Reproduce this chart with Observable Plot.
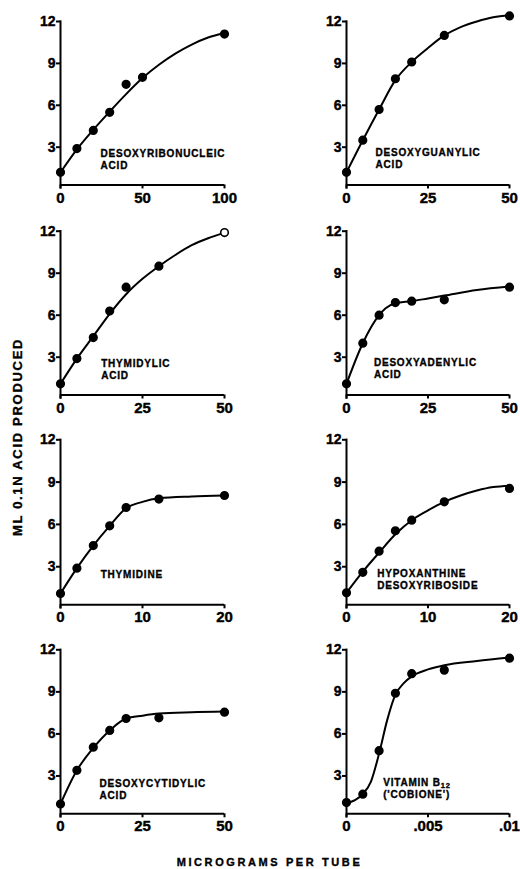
<!DOCTYPE html>
<html><head><meta charset="utf-8">
<script src="https://cdn.jsdelivr.net/npm/d3@7"></script>
<script src="https://cdn.jsdelivr.net/npm/@observablehq/plot@0.6"></script>
<style>
body{margin:0;background:#fff;}
#wrap{position:relative;width:520px;height:869px;background:#fff;overflow:hidden;}
.panel{position:absolute;}
.lab{position:absolute;white-space:nowrap;font-family:"Liberation Sans",Arial,sans-serif;font-weight:bold;color:#000;line-height:1;-webkit-text-stroke:0.35px #000;}
</style></head><body><div id="wrap"></div>
<script>
// ---- data ----
const titles = [
  "DESOXYRIBONUCLEIC\nACID", "DESOXYGUANYLIC\nACID",
  "THYMIDYLIC\nACID", "DESOXYADENYLIC\nACID",
  "THYMIDINE", "HYPOXANTHINE\nDESOXYRIBOSIDE",
  "DESOXYCYTIDYLIC\nACID", "VITAMIN B12\n('COBIONE')"
];
const yTicks = [3, 6, 9, 12];
const xTicks = [[0,50,100],[0,25,50],[0,25,50],[0,25,50],[0,10,20],[0,10,20],[0,25,50],[0,0.005,0.01]];
const xTickLabels = [["0","50","100"],["0","25","50"],["0","25","50"],["0","25","50"],["0","10","20"],["0","10","20"],["0","25","50"],["0",".005",".01"]];
const yLabel = "ML 0.1N ACID PRODUCED";
const xLabel = "MICROGRAMS PER TUBE";

// measured points
const dnaX = [0,10,20,30,40,50,100];
const dnaY = [1.2,2.9,4.2,5.5,7.5,8.0,11.1];
const guaX = [0,5,10,15,20,30,50];
const guaY = [1.2,3.5,5.7,7.9,9.1,11.0,12.4];
const thyX = [0,5,10,15,20,30,50];
const thyY = [1.1,2.9,4.4,6.3,8.0,9.5,11.9];
const adeX = [0,5,10,15,20,30,50];
const adeY = [1.1,4.0,6.0,6.9,7.0,7.1,8.0];
const tdnX = [0,2,4,6,8,12,20];
const tdnY = [1.1,2.9,4.5,5.9,7.2,7.8,8.05];
const hypX = [0,2,4,6,8,12,20];
const hypY = [1.15,2.6,4.1,5.55,6.3,7.6,8.55];
const cytX = [0,5,10,15,20,30,50];
const cytY = [1.0,3.4,5.05,6.25,7.1,7.15,7.55];
const b12X = [0,0.001,0.002,0.003,0.004,0.006,0.01];
const b12Y = [1.1,1.7,4.8,8.9,10.3,10.55,11.4];

// drawn curves
const dnaCX = [0,10,20,30,40,50,60,70,80,90,100];
const dnaCY = [1.2,2.85,4.25,5.55,6.8,7.95,8.9,9.7,10.35,10.85,11.2];
const guaCX = [0,5,10,15,20,25,30,35,40,45,50];
const guaCY = [1.2,3.5,5.7,7.8,9.1,10.1,11.0,11.6,12.0,12.3,12.45];
const thyCX = [0,5,10,15,20,25,30,35,40,45,50];
const thyCY = [1.1,2.9,4.5,6.1,7.5,8.6,9.5,10.3,11.0,11.5,11.9];
const adeCX = [0,5,10,12,15,20,25,30,40,50];
const adeCY = [1.1,4.0,6.0,6.5,6.85,7.0,7.2,7.4,7.8,8.05];
const tdnCX = [0,2,4,6,8,10,12,16,20];
const tdnCY = [1.1,2.9,4.5,5.9,7.15,7.6,7.85,7.98,8.05];
const hypCX = [0,2,4,6,8,10,12,14,16,18,20];
const hypCY = [1.15,2.65,4.0,5.3,6.3,7.0,7.6,8.05,8.4,8.65,8.75];
const cytCX = [0,5,10,15,20,25,30,40,50];
const cytCY = [1.0,3.4,5.0,6.25,7.1,7.3,7.45,7.55,7.6];
const b12CX = [0,0.001,0.0015,0.002,0.0025,0.003,0.0035,0.004,0.005,0.006,0.008,0.01];
const b12CY = [1.05,1.7,2.6,4.6,7.0,8.8,9.6,10.1,10.6,10.9,11.2,11.45];

const pointsX = [dnaX,guaX,thyX,adeX,tdnX,hypX,cytX,b12X];
const pointsY = [dnaY,guaY,thyY,adeY,tdnY,hypY,cytY,b12Y];
const curvesX = [dnaCX,guaCX,thyCX,adeCX,tdnCX,hypCX,cytCX,b12CX];
const curvesY = [dnaCY,guaCY,thyCY,adeCY,tdnCY,hypCY,cytCY,b12CY];

// ---- layout ----
const rowTop = [0,210,420,630];
const rowMT = [21,20.7,19.3,19.3];
const rowMB = [25.6,25.5,25.7,26.7];
const colLeft = [0,260];
const colML = [60,86];
const colMR = [36,11];
const labelPos = [[24.4,2.15],[8.9,2.19],[12.4,2.14],[8.4,2.2],[4.9,2.5],[3.76,2.12],[11.9,2.05],[0.00225,2.14]];
const openDot = [[],[],[6],[],[],[],[],[]];

const wrap = document.getElementById("wrap");
const FONT = '"Liberation Sans", Arial, sans-serif';

for (let p = 0; p < 8; p++) {
  const row = Math.floor(p / 2), col = p % 2;
  const xs = pointsX[p], ys = pointsY[p];
  const cx = curvesX[p], cy = curvesY[p];
  const xt = xTicks[p], xl = xTickLabels[p];
  const xmax = xt[xt.length - 1];
  const chart = Plot.plot({
    width: 260, height: 210,
    marginTop: rowMT[row], marginBottom: rowMB[row],
    marginLeft: colML[col], marginRight: colMR[col],
    style: {fontFamily: FONT, fontWeight: "bold", fontSize: "14px", color: "#000", background: "#fff", overflow: "visible"},
    x: {domain: [0, xmax]},
    y: {domain: [0.3, 12]},
    marks: [
      Plot.ruleY([0.3], {x1: 0, x2: xmax, stroke: "#000", strokeWidth: 2}),
      Plot.ruleX([0], {y1: 0, y2: 12.05, stroke: "#000", strokeWidth: 2}),
      Plot.axisY({ticks: yTicks, tickSize: 4, tickPadding: 1, strokeWidth: 2, label: null, fontSize: 14}),
      Plot.axisX({ticks: xt, tickSize: 4, tickPadding: 3, strokeWidth: 2, label: null, fontSize: 15,
        tickFormat: d => xl[xt.indexOf(d)]}),
      Plot.line(d3.range(cx.length), {x: i => cx[i], y: i => cy[i], curve: "monotone-x", stroke: "#000", strokeWidth: 2}),
      Plot.dot(d3.range(xs.length), {x: i => xs[i], y: i => ys[i], r: 3.8,
        fill: i => openDot[p].includes(i) ? "white" : "black", stroke: "black", strokeWidth: 1.6}),
      Plot.text([titles[p]], {x: labelPos[p][0], y: labelPos[p][1], text: d => d, textAnchor: "start",
        lineAnchor: "middle", fontSize: 10, fontWeight: "bold", lineHeight: 1.2, fill: "#000",
        stroke: "#000", strokeWidth: 0.35})
    ]
  });
  chart.classList.add("panel");
  chart.style.left = colLeft[col] + "px";
  chart.style.top = rowTop[row] + "px";
  const svg = d3.select(chart);
  svg.selectAll('g[aria-label="text"] text').attr("letter-spacing", 0.8);
  svg.selectAll('g[aria-label="y-axis tick label"] text, g[aria-label="x-axis tick label"] text')
    .attr("stroke", "#000").attr("stroke-width", 0.4);
  // subscript for B12
  svg.selectAll('g[aria-label="text"] tspan').each(function() {
    const t = this.textContent;
    if (t === "VITAMIN B12") {
      this.textContent = "VITAMIN B";
      d3.select(this).append("tspan").attr("font-size", 7.5).attr("baseline-shift", "-2").text("12");
    }
  });
  wrap.appendChild(chart);
}

const yl = document.createElement("div");
yl.className = "lab";
yl.textContent = yLabel;
Object.assign(yl.style, {left: "16.5px", top: "437px", fontSize: "13px", letterSpacing: "1.7px",
  transform: "translate(-50%,-50%) rotate(-90deg)"});
wrap.appendChild(yl);

const xlab = document.createElement("div");
xlab.className = "lab";
xlab.textContent = xLabel;
Object.assign(xlab.style, {left: "269.5px", top: "862px", fontSize: "11px", letterSpacing: "2.6px",
  transform: "translate(-50%,-50%)"});
wrap.appendChild(xlab);
</script></body></html>
